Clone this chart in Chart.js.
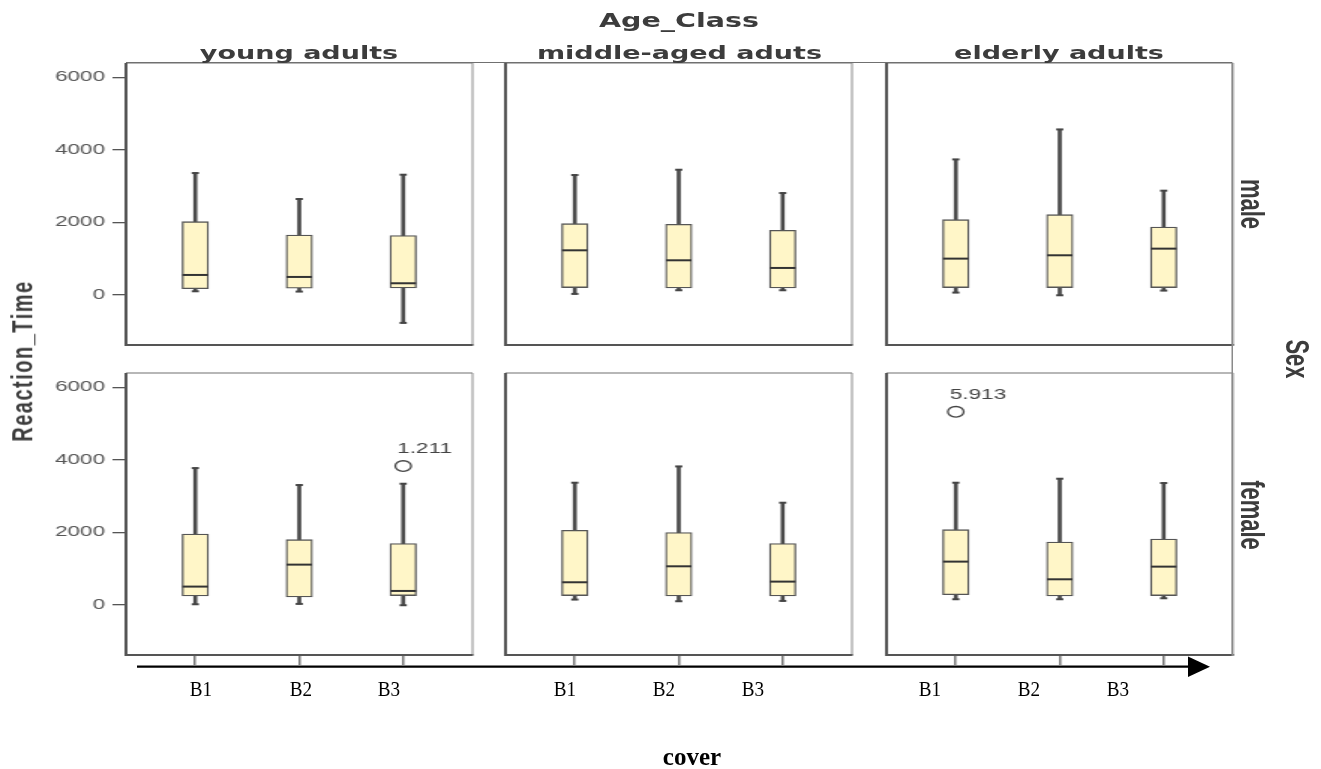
<!DOCTYPE html>
<html>
<head>
<meta charset="utf-8">
<script src="https://cdn.jsdelivr.net/npm/chart.js@4.4.1/dist/chart.umd.min.js"></script>
<style>
  html, body { margin: 0; padding: 0; background: #fff; overflow: hidden; }
  #page { position: relative; width: 1321px; height: 769px; }
  /* the reference picture is stretched sideways, so the SPSS part is drawn narrow and scaled */
  #stage { position: absolute; left: 0; top: 0; width: 880px; height: 769px; transform: scaleX(1.5); transform-origin: 0 0; }
  .lbl { position: absolute; white-space: nowrap; line-height: 1; color: #3c3c3c; }
  .title { font: bold 18px "DejaVu Sans", Verdana, sans-serif; transform: translate(-50%, -50%); }
  .side { font: bold 22px "Liberation Sans", Arial, sans-serif; transform: translate(-50%, -50%) rotate(90deg); }
  .ylab { font: bold 20px "Liberation Sans", Arial, sans-serif; letter-spacing: 1.5px; transform: translate(-50%, -50%) rotate(-90deg); }
  .cov { position: absolute; white-space: nowrap; line-height: 1; color: #000; font: 22px "Liberation Serif", "Times New Roman", serif; transform: translate(-50%, -50%) scaleX(0.87); }
</style>
</head>
<body>
<div id="page">
  <div id="stage"></div>
  <svg width="1321" height="769" style="position:absolute;left:0;top:0">
    <line x1="137" y1="666.7" x2="1192" y2="666.7" stroke="#000" stroke-width="2.2"/>
    <polygon points="1188,656.5 1188,677 1210,666.7" fill="#000"/>
  </svg>
</div>
<script>
// Facets: Age_Class across, Sex down, cover on the x axis
const ageClasses = ['young adults', 'middle-aged aduts', 'elderly adults'];
const sexes = ['male', 'female'];
const covers = ['B1', 'B2', 'B3'];
const yTicks = [0, 2000, 4000, 6000];

// each box: [lower whisker, Q1, median, Q3, upper whisker] for B1, B2, B3
const maleYoung = [[100, 174, 550, 2018, 3358], [92, 183, 495, 1651, 2642], [-771, 193, 321, 1633, 3312]];
const maleMiddle = [[28, 202, 1229, 1963, 3303], [128, 193, 954, 1945, 3449], [128, 193, 743, 1780, 2807]];
const maleElderly = [[64, 202, 1000, 2073, 3734], [-10, 202, 1092, 2211, 4560], [119, 202, 1275, 1871, 2872]];
const femaleYoung = [[18, 248, 505, 1954, 3770], [28, 220, 1110, 1798, 3303], [-9, 257, 385, 1688, 3339]];
const femaleMiddle = [[147, 257, 624, 2055, 3367], [101, 248, 1064, 1991, 3816], [110, 248, 642, 1688, 2816]];
const femaleElderly = [[156, 284, 1193, 2073, 3367], [156, 248, 706, 1734, 3477], [183, 257, 1055, 1816, 3358]];

// outliers: [cover position, value, case label]
const femaleYoungOutliers = [[3, 3826, '1.211']];
const femaleElderlyOutliers = [[1, 5321, '5.913']];

const panels = [[maleYoung, maleMiddle, maleElderly], [femaleYoung, femaleMiddle, femaleElderly]];
const panelOutliers = [[[], [], []], [femaleYoungOutliers, [], femaleElderlyOutliers]];

// layout, measured on the reference (page pixels)
const S = 1.5;
const colLeft = [126, 506, 886], colRight = [472, 853, 1232];
const rowTop = [62.7, 373.3], rowBottom = [345, 655.7];
const coverLabelX = [[200.5, 300.5, 389], [565, 664, 753], [930, 1029, 1118]];

const stage = document.getElementById('stage');
const page = document.getElementById('page');

Chart.defaults.animation = false;
Chart.defaults.events = [];
Chart.defaults.plugins.legend.display = false;
Chart.defaults.plugins.tooltip.enabled = false;

function seg(ctx, x1, y1, x2, y2, color, w) {
  ctx.beginPath();
  ctx.strokeStyle = color;
  ctx.lineWidth = w;
  ctx.moveTo(x1, y1);
  ctx.lineTo(x2, y2);
  ctx.stroke();
}

// panel frame, heavier on the left and bottom like the SPSS output
const framePlugin = {
  id: 'frame',
  afterDraw(chart) {
    const ctx = chart.ctx, a = chart.chartArea;
    ctx.save();
    seg(ctx, a.left, a.top, a.right, a.top, '#707070', 1.2);
    seg(ctx, a.right, a.top, a.right, a.bottom, '#8a8a8a', 1);
    seg(ctx, a.left - 1, a.bottom, a.right + 0.5, a.bottom, '#555', 2);
    seg(ctx, a.left, a.top, a.left, a.bottom + 1, '#555', 2);
    ctx.restore();
  }
};

// case number next to each outlier circle
const outlierTextPlugin = {
  id: 'outlierText',
  afterDatasetsDraw(chart) {
    const ctx = chart.ctx;
    chart.data.datasets.forEach((ds, i) => {
      if (!ds.caseLabels) return;
      chart.getDatasetMeta(i).data.forEach((pt, j) => {
        ctx.save();
        ctx.fillStyle = '#444';
        ctx.font = '15px "Liberation Sans", Arial, sans-serif';
        ctx.textAlign = 'left';
        ctx.textBaseline = 'middle';
        ctx.fillText(ds.caseLabels[j], pt.x - 4, pt.y - 17);
        ctx.restore();
      });
    });
  }
};

function makePanel(r, c) {
  const boxes = panels[r][c];
  const outs = panelOutliers[r][c];
  const left = colLeft[c] / S, right = colRight[c] / S;
  const top = rowTop[r], bottom = rowBottom[r];
  const axisW = c === 0 ? 60 : 0;
  const axisH = r === 1 ? 11 : 0;
  const pad = {top: 3, right: 3, bottom: r === 1 ? 0 : 3, left: c === 0 ? 0 : 3};
  const w = Math.round((right - left) + axisW + pad.left + pad.right);
  const h = Math.round((bottom - top) + axisH + pad.top + pad.bottom);

  const cv = document.createElement('canvas');
  cv.width = w;
  cv.height = h;
  cv.style.cssText = `position:absolute;left:${left - axisW - pad.left}px;top:${top - pad.top}px;width:${w}px;height:${h}px`;
  stage.appendChild(cv);

  new Chart(cv, {
    type: 'bar',
    data: {
      labels: covers,
      datasets: [
        {
          label: 'whisker',
          data: boxes.map((b, i) => ({x: i + 1, y: [b[0], b[4]]})),
          backgroundColor: '#4a4a4a',
          barThickness: 2,
          order: 4
        },
        {
          label: 'box',
          data: boxes.map((b, i) => ({x: i + 1, y: [b[1], b[3]]})),
          backgroundColor: '#fff6c8',
          borderColor: '#555',
          borderWidth: 1.3,
          borderSkipped: false,
          barThickness: 17.5,
          order: 3
        },
        {
          type: 'line',
          label: 'median',
          data: boxes.map((b, i) => ({x: i + 1, y: b[2]})),
          showLine: false,
          pointStyle: 'line',
          pointRadius: 8.5,
          pointBorderWidth: 2,
          pointBorderColor: '#333',
          order: 2
        },
        {
          type: 'line',
          label: 'caps',
          data: boxes.flatMap((b, i) => [{x: i + 1, y: b[0]}, {x: i + 1, y: b[4]}]),
          showLine: false,
          pointStyle: 'line',
          pointRadius: 2.4,
          pointBorderWidth: 2,
          pointBorderColor: '#444',
          order: 1
        },
        {
          type: 'line',
          label: 'outliers',
          data: outs.map(o => ({x: o[0], y: o[1]})),
          caseLabels: outs.map(o => o[2]),
          showLine: false,
          pointStyle: 'circle',
          pointRadius: 5.3,
          pointBorderWidth: 1.3,
          pointBorderColor: '#444',
          pointBackgroundColor: '#fff',
          order: 0
        }
      ]
    },
    options: {
      responsive: false,
      layout: {padding: pad, autoPadding: false},
      scales: {
        x: {
          type: 'linear',
          min: 1 / 3,
          max: 11 / 3,
          offset: false,
          stacked: true,
          display: r === 1,
          afterBuildTicks: s => { s.ticks = covers.map((_, i) => ({value: i + 1})); },
          afterFit: s => { s.height = axisH; s.paddingLeft = 0; s.paddingRight = 0; },
          grid: {offset: false, drawOnChartArea: false, tickLength: 10, color: '#777', lineWidth: 1.5},
          border: {display: false},
          ticks: {display: false}
        },
        y: {
          type: 'linear',
          min: -1380,
          max: 6390,
          display: c === 0,
          afterBuildTicks: s => { s.ticks = yTicks.map(v => ({value: v})); },
          afterFit: s => { s.width = axisW; s.paddingTop = 0; s.paddingBottom = 0; },
          grid: {drawOnChartArea: false, tickLength: 9, color: '#555', lineWidth: 1.3},
          border: {display: false},
          ticks: {
            padding: 5,
            color: '#555',
            font: {family: '"Liberation Sans", Arial, sans-serif', size: 15},
            callback: v => String(v)
          }
        }
      }
    },
    plugins: [framePlugin, outlierTextPlugin]
  });
}

for (let r = 0; r < sexes.length; r++) {
  for (let c = 0; c < ageClasses.length; c++) makePanel(r, c);
}

// SPSS lines joining the panels
function bar(x, y, w, h, color) {
  const d = document.createElement('div');
  d.style.cssText = `position:absolute;left:${x}px;top:${y}px;width:${w}px;height:${h}px;background:${color}`;
  stage.appendChild(d);
}
bar(colLeft[0] / S, rowTop[0] - 0.6, (colRight[2] - colLeft[0]) / S, 1.2, '#707070');
bar(colRight[2] / S - 0.5, rowTop[0], 1, rowBottom[1] - rowTop[0], '#8a8a8a');

function text(parent, cls, str, x, y) {
  const d = document.createElement('div');
  d.className = cls;
  d.textContent = str;
  d.style.left = x + 'px';
  d.style.top = y + 'px';
  parent.appendChild(d);
  return d;
}

text(stage, 'lbl title', 'Age_Class', 679 / S, 20).style.fontSize = '19px';
ageClasses.forEach((a, c) => text(stage, 'lbl title', a, (colLeft[c] + colRight[c]) / 2 / S, 52));
sexes.forEach((s, r) => text(stage, 'lbl side', s, 1251 / S, (rowTop[r] + rowBottom[r]) / 2));
text(stage, 'lbl side', 'Sex', 1295.5 / S, 359);
text(stage, 'lbl ylab', 'Reaction_Time', 22.5 / S, 361);

// cover labels typed under the arrow
coverLabelX.forEach(row => row.forEach((x, i) => text(page, 'cov', covers[i], x, 689)));
const cv = text(page, 'cov', 'cover', 692, 757);
cv.style.fontWeight = 'bold';
cv.style.fontSize = '25px';
cv.style.transform = 'translate(-50%, -50%)';
</script>
</body>
</html>
